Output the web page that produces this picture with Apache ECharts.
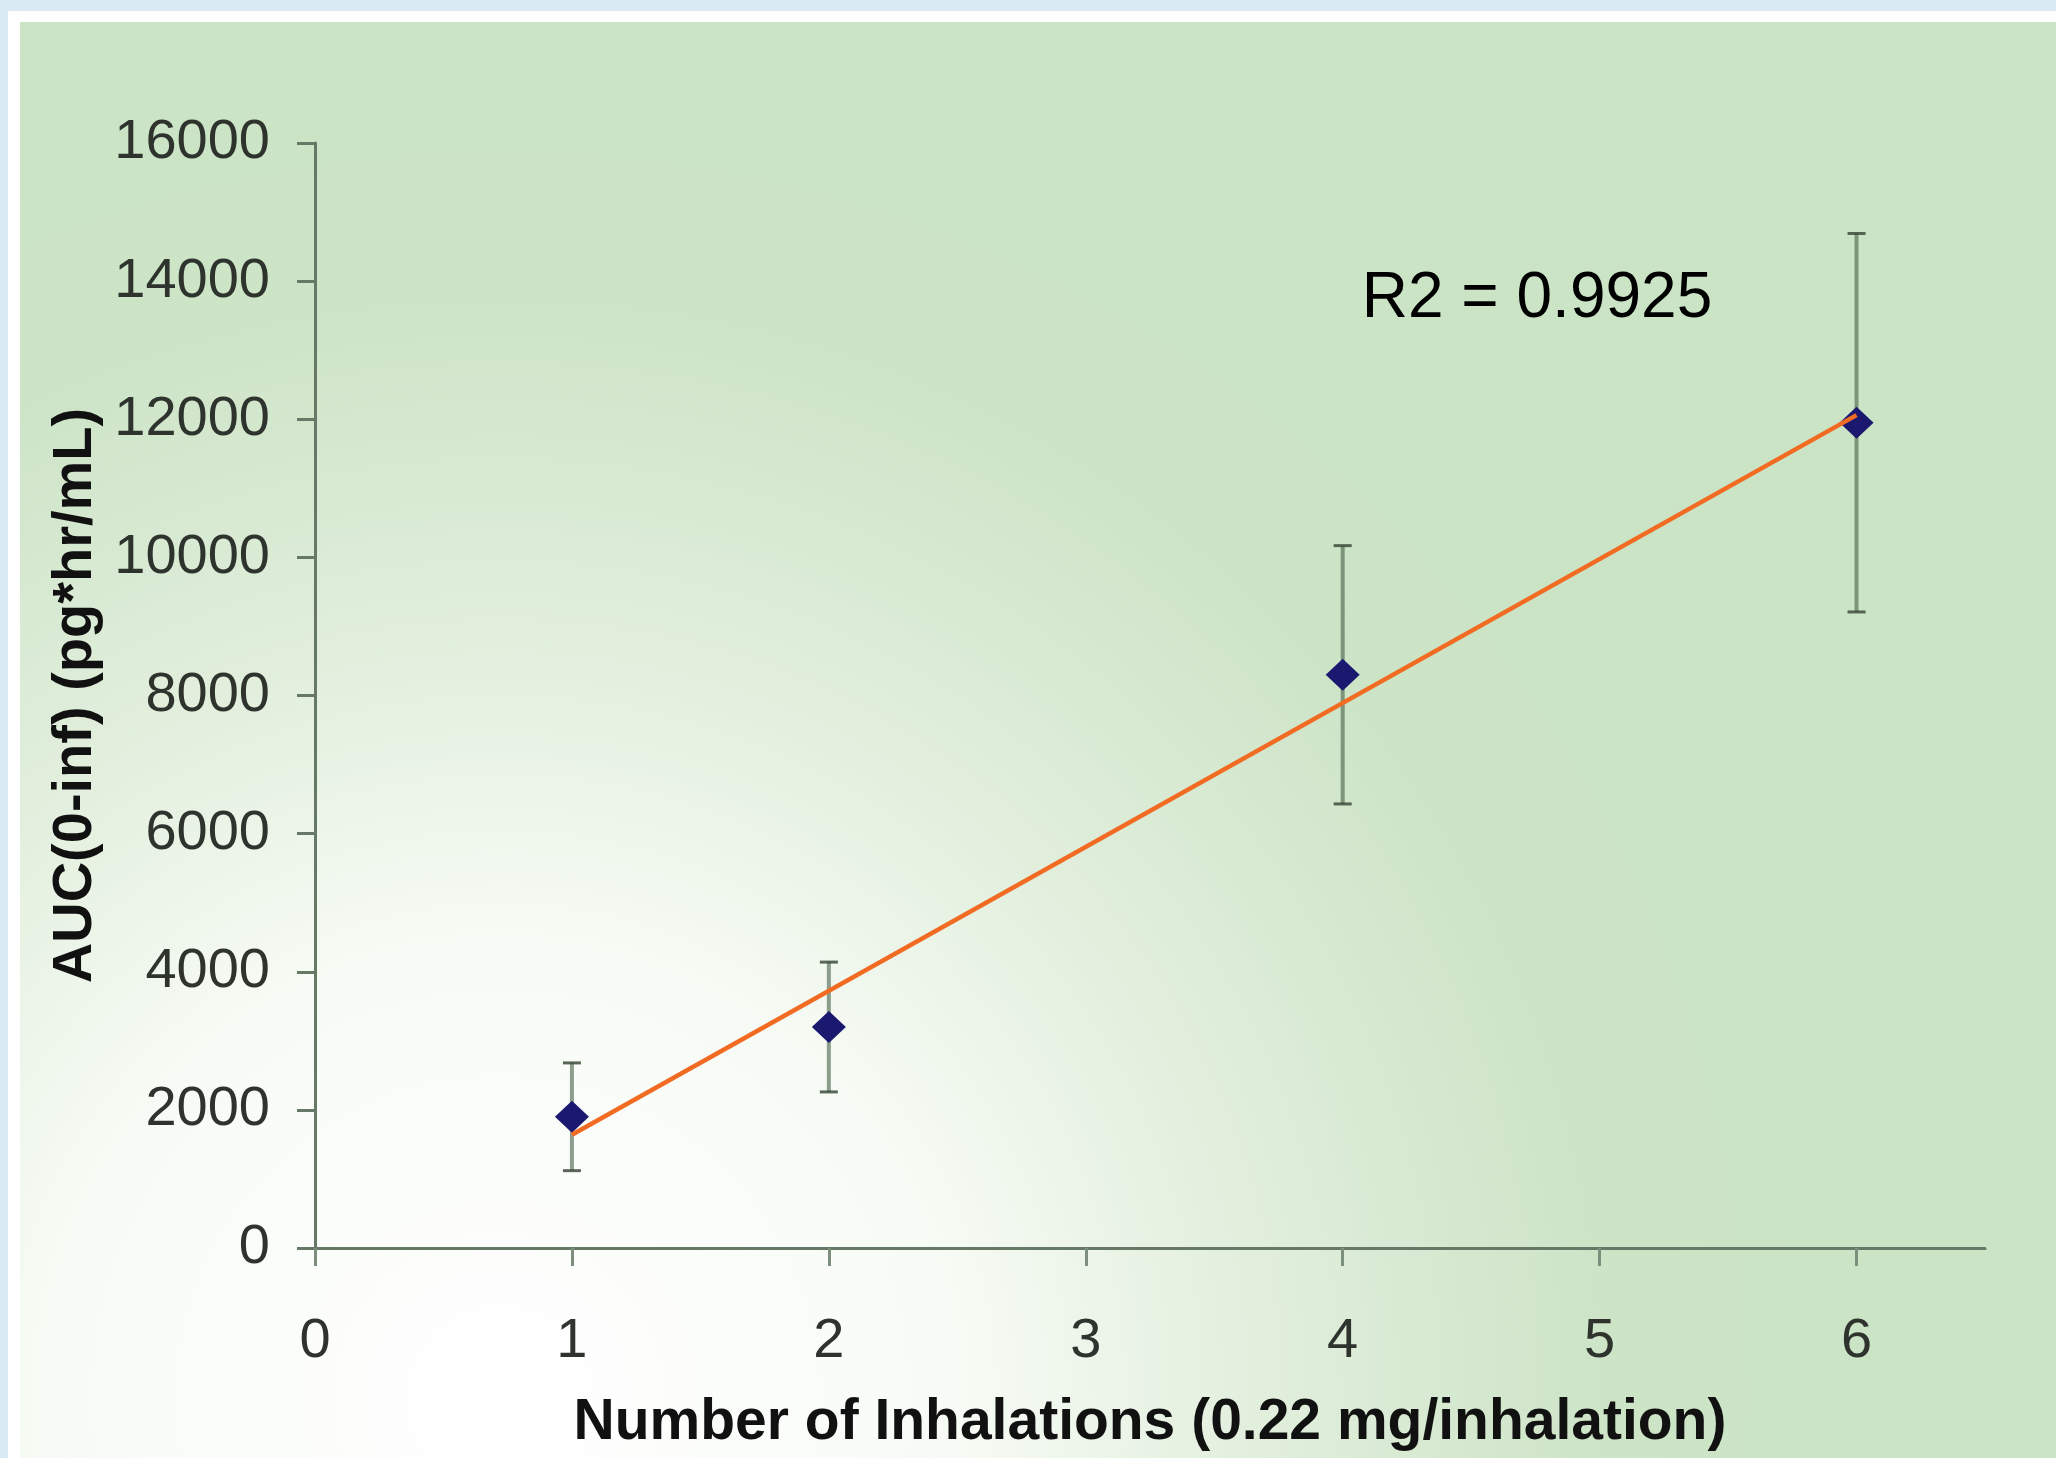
<!DOCTYPE html>
<html><head><meta charset="utf-8">
<script src="https://cdn.jsdelivr.net/npm/echarts@6/dist/echarts.min.js"></script>
<style>html,body{margin:0;padding:0;background:#d9eaf5;overflow:hidden;} #chart{width:2056px;height:1458px;}</style>
</head><body><div id="chart"></div>
<script>
// ---- data ----
const xValues = [1, 2, 4, 6];
const aucMean = [1900, 3200, 8300, 11950];
const aucErr = [780, 940, 1870, 2740];
const trendX = [1, 6];
const trendY = [1640, 12060];
const xTickValues = [0, 1, 2, 3, 4, 5, 6];
const r2Text = 'R2 = 0.9925';
const xAxisName = 'Number of Inhalations (0.22 mg/inhalation)';
const yAxisName = 'AUC(0-inf) (pg*hr/mL)';

const FONT = '"Liberation Sans", Arial, sans-serif';
const chart = echarts.init(document.getElementById('chart'), null, {renderer: 'canvas'});

const pointData = xValues.map((x, i) => [x, aucMean[i]]);
const errData = xValues.map((x, i) => [x, aucMean[i] - aucErr[i], aucMean[i] + aucErr[i]]);
const trendData = trendX.map((x, i) => [x, trendY[i]]);

chart.setOption({
  animation: false,
  backgroundColor: '#d9eaf5',
  graphic: [
    {type: 'rect', z: -20, silent: true, shape: {x: 8, y: 11, width: 2100, height: 1500}, style: {fill: '#ffffff'}},
    {type: 'rect', z: -19, silent: true, shape: {x: 20, y: 22, width: 2100, height: 1500},
      style: {fill: new echarts.graphic.RadialGradient(500, 1400, 1300, [
        {offset: 0, color: '#ffffff'},
        {offset: 0.35, color: '#f7fbf5'},
        {offset: 0.6, color: '#e0eedb'},
        {offset: 0.85, color: '#cde4c7'},
        {offset: 1, color: '#cce4c6'}
      ], true)}},
    {type: 'text', z: 10, x: 1537, y: 299,
      style: {text: r2Text, fill: '#000000', font: '64px ' + FONT, textAlign: 'center', textVerticalAlign: 'middle'}}
  ],
  grid: {left: 315, right: 71, top: 143, bottom: 210, containLabel: false},
  xAxis: {
    type: 'value', min: 0, max: 6.5, interval: 1,
    splitLine: {show: false},
    axisLine: {show: true, onZero: false, lineStyle: {color: '#667866', width: 3}},
    axisTick: {show: true, length: 18, customValues: xTickValues, lineStyle: {color: '#7c8f7c', width: 3}},
    axisLabel: {customValues: xTickValues, margin: 66, fontSize: 56, color: '#2e332e', fontFamily: FONT},
    name: xAxisName, nameLocation: 'middle', nameGap: 147,
    nameTextStyle: {fontSize: 57, fontWeight: 'bold', color: '#111111', fontFamily: FONT}
  },
  yAxis: {
    type: 'value', min: 0, max: 16000, interval: 2000,
    splitLine: {show: false},
    axisLine: {show: true, lineStyle: {color: '#667866', width: 3}},
    axisTick: {show: true, length: 18, lineStyle: {color: '#667866', width: 3}},
    axisLabel: {margin: 45, fontSize: 56, color: '#2e332e', fontFamily: FONT,
      formatter: function (v) { return String(v); }},
    name: yAxisName, nameLocation: 'middle', nameGap: 199, nameRotate: 90,
    nameTextStyle: {fontSize: 56, fontWeight: 'bold', color: '#111111', fontFamily: FONT}
  },
  series: [
    {
      type: 'custom', z: 1, data: errData, silent: true,
      renderItem: function (params, api) {
        const x = api.value(0), lo = api.value(1), hi = api.value(2);
        const pLo = api.coord([x, lo]);
        const pHi = api.coord([x, hi]);
        const cw = 9;
        return {type: 'group', children: [
          {type: 'line', shape: {x1: pLo[0], y1: pLo[1], x2: pHi[0], y2: pHi[1]},
            style: {stroke: 'rgba(70,95,70,0.6)', lineWidth: 4}},
          {type: 'line', shape: {x1: pHi[0] - cw, y1: pHi[1], x2: pHi[0] + cw, y2: pHi[1]},
            style: {stroke: 'rgba(60,78,60,0.85)', lineWidth: 3}},
          {type: 'line', shape: {x1: pLo[0] - cw, y1: pLo[1], x2: pLo[0] + cw, y2: pLo[1]},
            style: {stroke: 'rgba(60,78,60,0.85)', lineWidth: 3}}
        ]};
      }
    },
    {
      type: 'scatter', z: 2, data: pointData, symbol: 'diamond', symbolSize: [34, 32],
      itemStyle: {color: '#1b1870', opacity: 1}
    },
    {
      type: 'line', z: 3, data: trendData, showSymbol: false, symbol: 'none',
      lineStyle: {color: '#f26b22', width: 4.5}
    }
  ]
});
</script>
</body></html>
